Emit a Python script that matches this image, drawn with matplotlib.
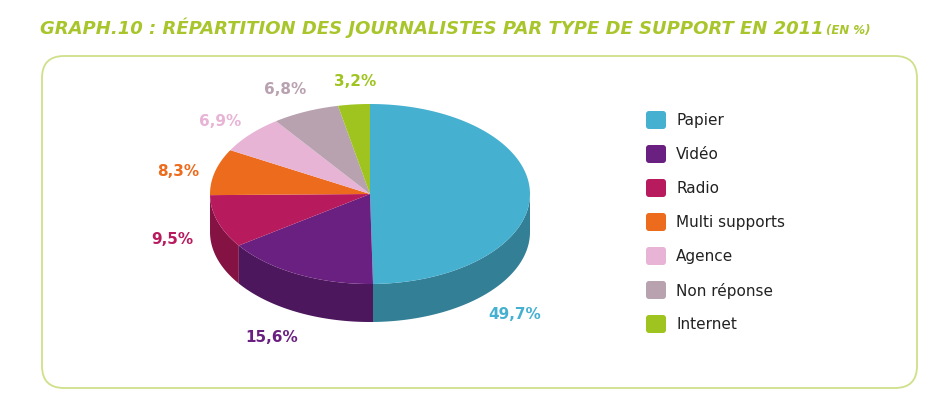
import matplotlib
matplotlib.use("Agg")
import matplotlib.pyplot as plt
import numpy as np
from matplotlib.patches import Polygon, FancyBboxPatch

categories = ["Papier", "Vidéo", "Radio", "Multi supports", "Agence", "Non réponse", "Internet"]
values = [49.7, 15.6, 9.5, 8.3, 6.9, 6.8, 3.2]
labels = ["49,7%", "15,6%", "9,5%", "8,3%", "6,9%", "6,8%", "3,2%"]
colors = ["#45b0d0", "#6a2080", "#b81a5e", "#ec6b1c", "#e8b4d6", "#b9a2b0", "#9fc41f"]
label_pos = [(515, 315), (272, 338), (172, 240), (178, 172), (220, 121), (285, 90), (355, 82)]

W, H = 947, 410
fig = plt.figure(figsize=(W/100, H/100), dpi=100)
ax = fig.add_axes([0, 0, 1, 1])
ax.set_xlim(0, W); ax.set_ylim(H, 0); ax.axis("off")

ax.add_patch(FancyBboxPatch((42, 57), 875, 332, boxstyle="round,pad=0,rounding_size=22",
                            fc="white", ec="#cfe08a", lw=1.3))
t1 = ax.text(40, 28, "GRAPH.10 : RÉPARTITION DES JOURNALISTES PAR TYPE DE SUPPORT EN 2011", color="#a8c62c",
             fontsize=13, fontstyle="italic", fontweight="bold", va="center", ha="left")
ax.annotate("(EN %)", xy=(1, 0.5), xycoords=t1, xytext=(2, -2), textcoords="offset points",
            color="#a8c62c", fontsize=8.5, fontstyle="italic", fontweight="bold", va="center", ha="left")

cx, cy, rx, ry, depth = 370, 195, 160, 90, 38
def pt(t, dy=0):
    return cx + rx*np.cos(t), cy - ry*np.sin(t) + dy

def dark(c, f=0.72):
    r, g, b = matplotlib.colors.to_rgb(c)
    return (r*f, g*f, b*f)

total = sum(values)
start = np.pi/2
angles = []
for v in values:
    end = start - 2*np.pi*v/total
    angles.append((end, start))
    start = end

for (a0, a1), c in zip(angles, colors):
    for lo, hi in [(-np.pi, 0), (-3*np.pi, -2*np.pi), (np.pi, 2*np.pi)]:
        s, e = max(a0, lo), min(a1, hi)
        if e > s:
            t = np.linspace(s, e, 60)
            top = np.column_stack(pt(t))
            bot = np.column_stack(pt(t[::-1], depth))
            ax.add_patch(Polygon(np.vstack([top, bot]), fc=dark(c), ec="none"))

for (a0, a1), c in zip(angles, colors):
    t = np.linspace(a0, a1, 120)
    xs, ys = pt(t)
    poly = np.vstack([[cx, cy], np.column_stack([xs, ys])])
    ax.add_patch(Polygon(poly, fc=c, ec="none"))

for lab, (x, y), c in zip(labels, label_pos, colors):
    ax.text(x, y, lab, color=c, fontsize=11, fontweight="bold", ha="center", va="center")

for i, (cat, c) in enumerate(zip(categories, colors)):
    y = 121 + i*34
    ax.add_patch(FancyBboxPatch((646, y-9), 20, 18, boxstyle="round,pad=0,rounding_size=3", fc=c, ec="none"))
    ax.text(676, y, cat, fontsize=11, color="#222222", va="center", ha="left")

fig.savefig("out.png", dpi=100)
